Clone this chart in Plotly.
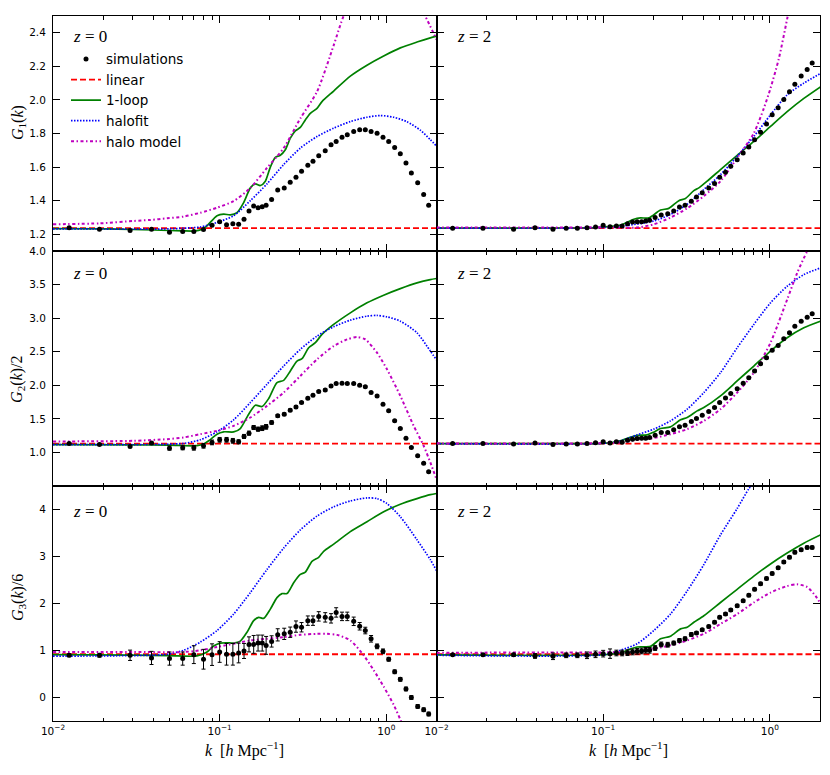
import math
import plotly.graph_objects as go
from plotly.subplots import make_subplots

# ---------------- data ----------------
K_SIM = [0.0125, 0.019, 0.029, 0.039, 0.05, 0.06, 0.07, 0.08, 0.09, 0.10,
         0.11, 0.12, 0.13, 0.14, 0.15, 0.16, 0.17, 0.18, 0.19, 0.205,
         0.223, 0.244, 0.265, 0.287, 0.31, 0.338, 0.363, 0.393, 0.43, 0.466,
         0.50, 0.542, 0.583, 0.637, 0.692, 0.748, 0.81, 0.88, 0.955, 1.033,
         1.122, 1.213, 1.312, 1.413, 1.542, 1.675, 1.795]

G1_Z0_SIM = [1.239, 1.23, 1.222, 1.23, 1.212, 1.216, 1.216, 1.228, 1.253, 1.275,
             1.257, 1.263, 1.259, 1.289, 1.338, 1.368, 1.358, 1.364, 1.372, 1.407,
             1.463, 1.476, 1.51, 1.54, 1.575, 1.611, 1.634, 1.668, 1.697, 1.733,
             1.753, 1.778, 1.792, 1.812, 1.822, 1.822, 1.812, 1.802, 1.778, 1.753,
             1.717, 1.68, 1.624, 1.565, 1.506, 1.437, 1.372]
G1_Z2_SIM = [1.236, 1.236, 1.23, 1.239, 1.23, 1.236, 1.236, 1.239, 1.243, 1.253,
             1.245, 1.249, 1.249, 1.263, 1.273, 1.275, 1.275, 1.279, 1.283, 1.299,
             1.314, 1.322, 1.338, 1.362, 1.372, 1.397, 1.421, 1.447, 1.476, 1.502,
             1.54, 1.569, 1.605, 1.644, 1.684, 1.719, 1.763, 1.808, 1.857, 1.911,
             1.954, 2.003, 2.049, 2.094, 2.142, 2.181, 2.22]
G2_Z0_SIM = [1.134, 1.119, 1.089, 1.139, 1.064, 1.069, 1.069, 1.099, 1.149, 1.188,
             1.188, 1.173, 1.158, 1.238, 1.287, 1.371, 1.347, 1.361, 1.381, 1.446,
             1.545, 1.569, 1.629, 1.678, 1.743, 1.807, 1.851, 1.906, 1.931, 1.99,
             2.025, 2.03, 2.025, 2.025, 2.0, 1.98, 1.891, 1.842, 1.718, 1.619,
             1.47, 1.356, 1.213, 1.074, 0.95, 0.837, 0.713]
G2_Z0_ERR = [0.01, 0.01, 0.015, 0.015, 0.03, 0.03, 0.035, 0.035, 0.035, 0.035,
             0.035, 0.035, 0.03, 0.03, 0.03, 0.03, 0.03, 0.035, 0.035, 0.025,
             0.02, 0.02, 0.02, 0.02, 0.015, 0.015, 0.015, 0.015, 0.015, 0.015,
             0.01, 0.01, 0.01, 0.01, 0.01, 0.01, 0.01, 0.01, 0.01, 0.01,
             0.01, 0.01, 0.01, 0.01, 0.01, 0.01, 0.01]
G2_Z2_SIM = [1.134, 1.134, 1.124, 1.139, 1.119, 1.124, 1.124, 1.134, 1.144, 1.158,
             1.139, 1.158, 1.153, 1.183, 1.198, 1.208, 1.213, 1.213, 1.223, 1.257,
             1.297, 1.297, 1.337, 1.381, 1.406, 1.46, 1.505, 1.554, 1.609, 1.668,
             1.743, 1.812, 1.876, 1.95, 2.03, 2.114, 2.213, 2.322, 2.411, 2.52,
             2.594, 2.693, 2.782, 2.881, 2.955, 3.015, 3.064]
G2_Z2_ERR = [0.005, 0.005, 0.008, 0.01, 0.01, 0.01, 0.01, 0.01, 0.012, 0.012,
             0.015, 0.012, 0.012, 0.012, 0.012, 0.012, 0.012, 0.012, 0.012, 0.01,
             0.01, 0.01, 0.01, 0.01, 0.01, 0.01, 0.01, 0.01, 0.01, 0.01,
             0.01, 0.01, 0.01, 0.01, 0.01, 0.01, 0.01, 0.01, 0.01, 0.01,
             0.01, 0.01, 0.01, 0.01, 0.01, 0.01, 0.01]
G3_Z0_SIM = [0.898, 0.898, 0.898, 0.842, 0.828, 0.828, 0.912, 0.814, 0.912, 0.968,
             0.919, 0.919, 0.947, 0.99, 1.13, 1.13, 1.158, 1.158, 1.109, 1.193,
             1.333, 1.354, 1.389, 1.509, 1.495, 1.635, 1.635, 1.726, 1.705, 1.684,
             1.81, 1.726, 1.726, 1.621, 1.516, 1.425, 1.249, 1.088, 0.982, 0.814,
             0.547, 0.386, 0.182, 0.0, -0.189, -0.26, -0.351]
G3_Z0_ERR = [0.03, 0.04, 0.11, 0.14, 0.14, 0.14, 0.19, 0.21, 0.23, 0.22,
             0.23, 0.23, 0.21, 0.16, 0.16, 0.19, 0.17, 0.17, 0.19, 0.12,
             0.13, 0.12, 0.11, 0.12, 0.1, 0.1, 0.1, 0.1, 0.1, 0.1,
             0.1, 0.09, 0.09, 0.09, 0.08, 0.07, 0.07, 0.05, 0.05, 0.04,
             0.04, 0.04, 0.04, 0.04, 0.04, 0.04, 0.04]
G3_Z2_SIM = [0.912, 0.912, 0.912, 0.884, 0.877, 0.898, 0.898, 0.898, 0.919, 0.933,
             0.933, 0.947, 0.947, 0.954, 0.968, 0.982, 0.99, 1.004, 1.004, 1.053,
             1.13, 1.123, 1.158, 1.214, 1.249, 1.34, 1.375, 1.439, 1.509, 1.6,
             1.705, 1.775, 1.86, 1.951, 2.056, 2.175, 2.302, 2.421, 2.533, 2.639,
             2.758, 2.884, 2.982, 3.088, 3.144, 3.193, 3.193]
G3_Z2_ERR = [0.02, 0.02, 0.03, 0.05, 0.07, 0.05, 0.05, 0.07, 0.07, 0.07,
             0.1, 0.06, 0.06, 0.06, 0.06, 0.06, 0.06, 0.06, 0.06, 0.05,
             0.05, 0.05, 0.04, 0.04, 0.04, 0.04, 0.03, 0.03, 0.03, 0.03,
             0.03, 0.03, 0.03, 0.03, 0.03, 0.03, 0.03, 0.03, 0.03, 0.03,
             0.03, 0.03, 0.03, 0.03, 0.03, 0.03, 0.03]

# linear theory (constant)
K_LIN = [0.01, 2.0]
G1_LIN = [1.236, 1.236]
G2_LIN = [1.13, 1.13]
G3_LIN = [0.92, 0.92]

# ---- G1, z=0 ----
K_G1_Z0_LOOP = [0.01, 0.02, 0.03, 0.04, 0.05, 0.06, 0.07, 0.078, 0.0839, 0.0964,
                0.1057, 0.1159, 0.127, 0.1393, 0.1528, 0.1637, 0.1754, 0.188, 0.2014, 0.2158,
                0.2312, 0.2477, 0.2655, 0.2844, 0.3048, 0.3266, 0.3499, 0.3837, 0.4111, 0.4831,
                0.6081, 0.7656, 0.9638, 1.2134, 1.5276, 1.8365, 2.0]
G1_Z0_LOOP = [1.233, 1.232, 1.228, 1.225, 1.222, 1.22, 1.219, 1.228, 1.25, 1.31,
              1.32, 1.315, 1.328, 1.388, 1.476, 1.50, 1.49, 1.516, 1.60, 1.658,
              1.67, 1.703, 1.772, 1.816, 1.836, 1.881, 1.92, 1.95, 1.99, 2.053,
              2.142, 2.207, 2.262, 2.31, 2.345, 2.37, 2.38]
K_G1_Z0_HALOFIT = [0.01, 0.02, 0.03, 0.04, 0.05, 0.0608, 0.0766, 0.0964, 0.1213, 0.1528,
                   0.1923, 0.2421, 0.3048, 0.3837, 0.4831, 0.6081, 0.7656, 0.9204, 1.1066, 1.3305,
                   1.5996, 1.8365, 2.0]
G1_Z0_HALOFIT = [1.232, 1.231, 1.23, 1.23, 1.232, 1.236, 1.243, 1.27, 1.31, 1.40,
                 1.50, 1.615, 1.713, 1.782, 1.832, 1.871, 1.897, 1.907, 1.897, 1.87,
                 1.82, 1.763, 1.725]
K_G1_Z0_HALO = [0.01, 0.0192, 0.0305, 0.0384, 0.0483, 0.0608, 0.0766, 0.0964, 0.1213, 0.1528,
                0.1923, 0.2421, 0.3048, 0.3837, 0.4831, 0.5546, 0.65, 0.8, 1.0, 1.2,
                1.45, 1.71, 2.0]
G1_Z0_HALO = [1.259, 1.265, 1.279, 1.285, 1.295, 1.305, 1.328, 1.358, 1.397, 1.476,
              1.595, 1.713, 1.89, 2.049, 2.325, 2.50, 2.62, 2.72, 2.76, 2.72,
              2.62, 2.50, 2.36]

# ---- G1, z=2 ----
K_G1_Z2_LOOP = [0.01, 0.03, 0.06, 0.09, 0.101, 0.127, 0.1528, 0.1675, 0.188, 0.2208,
                0.2477, 0.2844, 0.3119, 0.3499, 0.375, 0.4207, 0.5058, 0.6368, 0.8017, 1.0093,
                1.2706, 1.5996, 2.0137]
G1_Z2_LOOP = [1.236, 1.236, 1.237, 1.24, 1.243, 1.255, 1.289, 1.297, 1.297, 1.344,
              1.354, 1.40, 1.413, 1.46, 1.476, 1.516, 1.585, 1.67, 1.753, 1.842,
              1.93, 2.009, 2.078]
K_G1_Z2_HALOFIT = [0.01, 0.05, 0.1, 0.13, 0.2014, 0.2535, 0.3192, 0.4018, 0.5058, 0.6368,
                   0.8017, 1.0093, 1.2706, 1.5996, 2.0137]
G1_Z2_HALOFIT = [1.236, 1.236, 1.24, 1.248, 1.279, 1.318, 1.378, 1.466, 1.555, 1.664,
                 1.782, 1.911, 2.03, 2.10, 2.157]
K_G1_Z2_HALO = [0.01, 0.05, 0.1, 0.16, 0.2014, 0.2535, 0.3192, 0.4018, 0.5058, 0.6368,
                0.8017, 0.9204, 1.0093, 1.1324, 1.2706, 1.5, 2.0]
G1_Z2_HALO = [1.24, 1.24, 1.241, 1.24, 1.259, 1.299, 1.354, 1.427, 1.516, 1.654,
              1.802, 1.95, 2.069, 2.246, 2.483, 2.85, 3.5]

# ---- G2/2, z=0 ----
K_G2_Z0_LOOP = [0.01, 0.03, 0.05, 0.0731, 0.08, 0.0878, 0.0964, 0.1057, 0.1213, 0.133,
                0.1493, 0.1637, 0.1795, 0.1968, 0.2208, 0.2421, 0.2655, 0.2911, 0.3119, 0.342,
                0.375, 0.4111, 0.4831, 0.6081, 0.7656, 0.9638, 1.2134, 1.5276, 1.8365, 2.0]
G2_Z0_LOOP = [1.115, 1.112, 1.108, 1.10, 1.125, 1.19, 1.272, 1.307, 1.305, 1.356,
              1.569, 1.703, 1.683, 1.802, 2.04, 2.074, 2.213, 2.361, 2.396, 2.559,
              2.634, 2.757, 2.906, 3.079, 3.228, 3.342, 3.44, 3.525, 3.574, 3.59]
K_G2_Z0_HALOFIT = [0.01, 0.03, 0.0483, 0.0608, 0.0766, 0.0964, 0.1213, 0.1528, 0.1923, 0.2421,
                   0.3048, 0.3837, 0.4831, 0.6081, 0.7656, 0.879, 1.0093, 1.2134, 1.5276, 1.8365,
                   2.0]
G2_Z0_HALOFIT = [1.115, 1.117, 1.122, 1.134, 1.188, 1.307, 1.485, 1.743, 2.015, 2.287,
                 2.535, 2.733, 2.871, 2.97, 3.03, 3.04, 3.02, 2.955, 2.782, 2.51,
                 2.38]
K_G2_Z0_HALO = [0.01, 0.0305, 0.0483, 0.0608, 0.0766, 0.0964, 0.1213, 0.1528, 0.1923, 0.2421,
                0.3048, 0.3837, 0.4831, 0.5808, 0.6668, 0.7482, 0.879, 1.0093, 1.2134, 1.4588,
                1.6749, 1.8365, 2.0]
G2_Z0_HALO = [1.163, 1.173, 1.198, 1.223, 1.272, 1.322, 1.396, 1.52, 1.693, 1.891,
              2.139, 2.386, 2.584, 2.683, 2.718, 2.683, 2.485, 2.238, 1.842, 1.396,
              1.099, 0.851, 0.6]

# ---- G2/2, z=2 ----
K_G2_Z2_LOOP = [0.01, 0.05, 0.1, 0.115, 0.13, 0.145, 0.16, 0.1837, 0.2, 0.2208,
                0.2535, 0.2911, 0.3192, 0.3664, 0.4018, 0.5058, 0.6368, 0.8017, 1.0093, 1.2706,
                1.5996, 2.0137]
G2_Z2_LOOP = [1.13, 1.13, 1.135, 1.15, 1.18, 1.225, 1.255, 1.262, 1.30, 1.356,
              1.381, 1.485, 1.52, 1.619, 1.668, 1.842, 2.064, 2.287, 2.51, 2.708,
              2.856, 2.955]
K_G2_Z2_HALOFIT = [0.01, 0.1, 0.127, 0.16, 0.2014, 0.2535, 0.3192, 0.4018, 0.5058, 0.6368,
                   0.8017, 1.0093, 1.2706, 1.5996, 2.0137]
G2_Z2_HALOFIT = [1.13, 1.135, 1.17, 1.262, 1.347, 1.47, 1.644, 1.891, 2.188, 2.559,
                 2.906, 3.228, 3.475, 3.649, 3.748]
K_G2_Z2_HALO = [0.01, 0.1, 0.13, 0.16, 0.2014, 0.2535, 0.3192, 0.4018, 0.5058, 0.6368,
                0.8017, 1.0093, 1.2706, 1.4588, 1.6749, 1.8365, 2.0]
G2_Z2_HALO = [1.135, 1.137, 1.15, 1.19, 1.215, 1.272, 1.347, 1.47, 1.644, 1.891,
              2.188, 2.634, 3.277, 3.673, 3.995, 4.17, 4.4]

# ---- G3/6, z=0 ----
K_G3_Z0_LOOP = [0.01, 0.03, 0.05, 0.0731, 0.0839, 0.092, 0.101, 0.1107, 0.1213, 0.133,
                0.1459, 0.16, 0.1714, 0.1837, 0.2014, 0.2208, 0.2366, 0.2535, 0.278, 0.3048,
                0.3266, 0.3581, 0.3926, 0.4207, 0.4831, 0.6081, 0.7656, 0.9638, 1.2134, 1.5276,
                1.8365, 2.0]
G3_Z0_LOOP = [0.912, 0.9, 0.89, 0.884, 0.968, 1.095, 1.158, 1.165, 1.158, 1.2,
              1.389, 1.635, 1.705, 1.684, 1.881, 2.126, 2.211, 2.211, 2.442, 2.618,
              2.667, 2.898, 2.982, 3.109, 3.263, 3.53, 3.74, 3.951, 4.112, 4.232,
              4.316, 4.34]
K_G3_Z0_HALOFIT = [0.01, 0.02, 0.04, 0.0483, 0.0608, 0.0766, 0.0964, 0.1213, 0.1528, 0.1923,
                   0.2421, 0.3048, 0.3837, 0.4831, 0.6081, 0.7656, 0.879, 1.0093, 1.2134, 1.5276,
                   1.8365, 2.0]
G3_Z0_HALOFIT = [0.88, 0.885, 0.9, 0.919, 1.004, 1.179, 1.425, 1.775, 2.232, 2.723,
                 3.179, 3.565, 3.86, 4.056, 4.182, 4.246, 4.232, 4.126, 3.846, 3.354,
                 2.933, 2.7]
K_G3_Z0_HALO = [0.01, 0.03, 0.0608, 0.0766, 0.0964, 0.1213, 0.1528, 0.1923, 0.2421, 0.3048,
                0.3837, 0.4406, 0.5058, 0.6081, 0.7311, 0.8395, 0.9638, 1.1066, 1.2134, 1.33]
G3_Z0_HALO = [0.968, 0.968, 0.968, 1.004, 1.074, 1.144, 1.214, 1.249, 1.284, 1.333,
              1.354, 1.354, 1.333, 1.214, 0.898, 0.582, 0.232, -0.154, -0.47, -0.82]

# ---- G3/6, z=2 ----
K_G3_Z2_LOOP = [0.01, 0.1, 0.127, 0.145, 0.16, 0.1923, 0.2208, 0.2535, 0.2911, 0.3192,
                0.35, 0.4018, 0.5058, 0.6368, 0.8017, 1.0093, 1.2706, 1.5996, 2.0137]
G3_Z2_LOOP = [0.905, 0.91, 0.95, 1.03, 1.074, 1.088, 1.249, 1.305, 1.46, 1.495,
              1.6, 1.74, 2.021, 2.302, 2.582, 2.842, 3.074, 3.284, 3.46]
K_G3_Z2_HALOFIT = [0.01, 0.1, 0.127, 0.16, 0.2014, 0.2535, 0.3192, 0.4018, 0.5058, 0.6368,
                   0.7482, 0.8017, 1.0, 2.0]
G3_Z2_HALOFIT = [0.9, 0.91, 1.004, 1.144, 1.425, 1.775, 2.267, 2.828, 3.46, 4.021,
                 4.442, 4.58, 5.3, 7.5]
K_G3_Z2_HALO = [0.01, 0.1, 0.15, 0.2014, 0.2535, 0.3192, 0.4018, 0.5058, 0.6368, 0.8017,
                1.0093, 1.2706, 1.4588, 1.6749, 1.8793, 2.0137]
G3_Z2_HALO = [0.954, 0.96, 0.97, 1.039, 1.109, 1.214, 1.354, 1.565, 1.775, 2.021,
              2.232, 2.372, 2.407, 2.351, 2.161, 2.0]

# axis ticks / labels
X_TICKS = [0.01, 0.1, 1.0]
X_TICKTEXT = ["10<sup>\u22122</sup>", "10<sup>\u22121</sup>", "10<sup>0</sup>"]
X_MINOR = [0.02, 0.03, 0.04, 0.05, 0.06, 0.07, 0.08, 0.09,
           0.2, 0.3, 0.4, 0.5, 0.6, 0.7, 0.8, 0.9, 2.0]
Y1_TICKS = [1.2, 1.4, 1.6, 1.8, 2.0, 2.2, 2.4]
Y1_TEXT = ["1.2", "1.4", "1.6", "1.8", "2.0", "2.2", "2.4"]
Y2_TICKS = [1.0, 1.5, 2.0, 2.5, 3.0, 3.5, 4.0]
Y2_TEXT = ["1.0", "1.5", "2.0", "2.5", "3.0", "3.5", "4.0"]
Y3_TICKS = [0, 1, 2, 3, 4]
Y3_TEXT = ["0", "1", "2", "3", "4"]
Y_RANGES = [[1.1, 2.5], [0.5, 4.0], [-0.5, 4.5]]
Y_LABELS = ["<i>G</i><sub>1</sub>(<i>k</i>)",
            "<i>G</i><sub>2</sub>(<i>k</i>)/2",
            "<i>G</i><sub>3</sub>(<i>k</i>)/6"]
Z_LABELS = ["<i>z</i> = 0", "<i>z</i> = 2"]
X_LABEL = "<i>k</i>  [<i>h</i> Mpc<sup>\u22121</sup>]"
NAMES = ["simulations", "linear", "1-loop", "halofit", "halo model"]

# ---------------- figure ----------------
# the page body has an 8 px default margin, so the figure is offset by 8 px
OFF = 8
W, H = 830 - OFF, 775 - OFF
ML, MR, MT, MB = 53 - OFF, 10, 10 - OFF, 54
PW, PH = W - ML - MR, H - MT - MB

fig = make_subplots(rows=3, cols=2, horizontal_spacing=0, vertical_spacing=0)

C_LIN, C_LOOP, C_HFIT, C_HALO = "#ff0000", "#008000", "#0000ff", "#bf00bf"

panels = {
    (1, 1): dict(sim=G1_Z0_SIM, err=None, lin=G1_LIN,
                 loop=(K_G1_Z0_LOOP, G1_Z0_LOOP), hfit=(K_G1_Z0_HALOFIT, G1_Z0_HALOFIT),
                 halo=(K_G1_Z0_HALO, G1_Z0_HALO)),
    (1, 2): dict(sim=G1_Z2_SIM, err=None, lin=G1_LIN,
                 loop=(K_G1_Z2_LOOP, G1_Z2_LOOP), hfit=(K_G1_Z2_HALOFIT, G1_Z2_HALOFIT),
                 halo=(K_G1_Z2_HALO, G1_Z2_HALO)),
    (2, 1): dict(sim=G2_Z0_SIM, err=G2_Z0_ERR, lin=G2_LIN,
                 loop=(K_G2_Z0_LOOP, G2_Z0_LOOP), hfit=(K_G2_Z0_HALOFIT, G2_Z0_HALOFIT),
                 halo=(K_G2_Z0_HALO, G2_Z0_HALO)),
    (2, 2): dict(sim=G2_Z2_SIM, err=G2_Z2_ERR, lin=G2_LIN,
                 loop=(K_G2_Z2_LOOP, G2_Z2_LOOP), hfit=(K_G2_Z2_HALOFIT, G2_Z2_HALOFIT),
                 halo=(K_G2_Z2_HALO, G2_Z2_HALO)),
    (3, 1): dict(sim=G3_Z0_SIM, err=G3_Z0_ERR, lin=G3_LIN,
                 loop=(K_G3_Z0_LOOP, G3_Z0_LOOP), hfit=(K_G3_Z0_HALOFIT, G3_Z0_HALOFIT),
                 halo=(K_G3_Z0_HALO, G3_Z0_HALO)),
    (3, 2): dict(sim=G3_Z2_SIM, err=G3_Z2_ERR, lin=G3_LIN,
                 loop=(K_G3_Z2_LOOP, G3_Z2_LOOP), hfit=(K_G3_Z2_HALOFIT, G3_Z2_HALOFIT),
                 halo=(K_G3_Z2_HALO, G3_Z2_HALO)),
}

for (r, c), p in panels.items():
    show = (r == 1 and c == 1)
    fig.add_trace(go.Scatter(x=K_LIN, y=p["lin"], mode="lines", name=NAMES[1],
                             legendrank=2, showlegend=show,
                             line=dict(color=C_LIN, width=1.8, dash="6px,3px")), row=r, col=c)
    fig.add_trace(go.Scatter(x=p["loop"][0], y=p["loop"][1], mode="lines", name=NAMES[2],
                             legendrank=3, showlegend=show,
                             line=dict(color=C_LOOP, width=1.7, shape="spline", smoothing=0.7)),
                  row=r, col=c)
    fig.add_trace(go.Scatter(x=p["hfit"][0], y=p["hfit"][1], mode="lines", name=NAMES[3],
                             legendrank=4, showlegend=show,
                             line=dict(color=C_HFIT, width=1.7, dash="1.5px,1.5px",
                                       shape="spline", smoothing=0.7)), row=r, col=c)
    fig.add_trace(go.Scatter(x=p["halo"][0], y=p["halo"][1], mode="lines", name=NAMES[4],
                             legendrank=5, showlegend=show,
                             line=dict(color=C_HALO, width=2.0, dash="3px,2.5px,1.5px,2.5px",
                                       shape="spline", smoothing=0.7)), row=r, col=c)
    err = None
    if p["err"] is not None:
        err = dict(type="data", array=p["err"], visible=True, color="black",
                   thickness=1, width=2)
    fig.add_trace(go.Scatter(x=K_SIM, y=p["sim"], mode="markers", name=NAMES[0],
                             legendrank=1, showlegend=show, error_y=err,
                             marker=dict(color="black", size=5)), row=r, col=c)

tick_font = dict(family="DejaVu Sans", size=10.5, color="black")
fig.update_xaxes(type="log", range=[-2, math.log10(2.0)], showgrid=False, zeroline=False,
                 showline=True, linecolor="black", linewidth=1, mirror="ticks",
                 ticks="inside", ticklen=7, tickwidth=1, tickcolor="black",
                 tickvals=X_TICKS, ticktext=X_TICKTEXT, tickfont=tick_font,
                 minor=dict(ticks="inside", ticklen=3.5, tickwidth=1, tickcolor="black",
                            tickvals=X_MINOR, showgrid=False),
                 showticklabels=False)
fig.update_xaxes(showticklabels=True, row=3)

ytick_sets = [(Y1_TICKS, Y1_TEXT), (Y2_TICKS, Y2_TEXT), (Y3_TICKS, Y3_TEXT)]
for r in range(1, 4):
    tv, tt = ytick_sets[r - 1]
    for c in (1, 2):
        fig.update_yaxes(range=Y_RANGES[r - 1], showgrid=False, zeroline=False,
                         showline=True, linecolor="black", linewidth=1, mirror="ticks",
                         ticks="inside", ticklen=7, tickwidth=1, tickcolor="black",
                         tickvals=tv, ticktext=tt, tickfont=tick_font,
                         showticklabels=(c == 1), ticklabelstandoff=4,
                         row=r, col=c)


def px_x(px):
    # window pixel -> paper coordinate
    return (px - OFF - ML) / PW


def px_y(py):
    return 1 - (py - OFF - MT) / PH


ann = []
label_font = dict(family="Liberation Serif", size=16, color="black")
for i, yc in enumerate([118, 377, 597]):
    ann.append(dict(x=px_x(18), y=px_y(yc), xref="paper", yref="paper",
                    text=Y_LABELS[i], textangle=-90, showarrow=False,
                    xanchor="center", yanchor="middle", font=label_font))
for xc in (244, 628):
    ann.append(dict(x=px_x(xc), y=px_y(750), xref="paper", yref="paper",
                    text=X_LABEL, showarrow=False, xanchor="center", yanchor="middle",
                    font=label_font))
z_font = dict(family="Liberation Serif", size=17, color="black")
for yc in (31, 270, 510):
    for xl, t in ((71, Z_LABELS[0]), (455, Z_LABELS[1])):
        ann.append(dict(x=px_x(xl), y=px_y(yc), xref="paper", yref="paper",
                        text=t, showarrow=False, xanchor="left", yanchor="middle",
                        font=z_font))

fig.update_layout(
    width=W, height=H,
    margin=dict(l=ML, r=MR, t=MT, b=MB),
    paper_bgcolor="white", plot_bgcolor="white",
    annotations=ann,
    legend=dict(x=px_x(66), y=px_y(38), xanchor="left", yanchor="top",
                bgcolor="rgba(0,0,0,0)", borderwidth=0,
                font=dict(family="DejaVu Sans", size=13.5, color="black"),
                itemwidth=30, tracegroupgap=0),
)

fig.write_html("out.html")
